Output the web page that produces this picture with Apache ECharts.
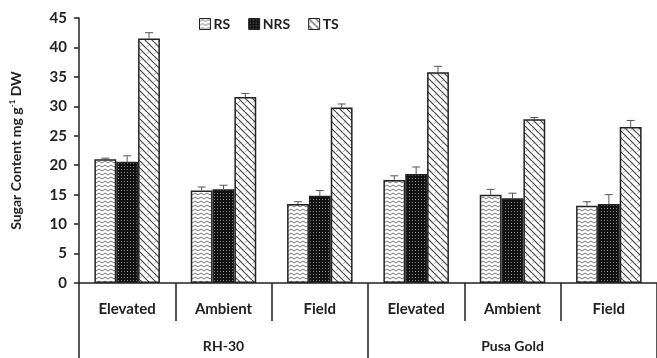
<!DOCTYPE html>
<html><head><meta charset="utf-8">
<script src="https://cdn.jsdelivr.net/npm/echarts@6/dist/echarts.min.js"></script>
<style>html,body{margin:0;padding:0;background:#fff}#c{width:657px;height:358px}</style>
</head><body><div id="c"></div>
<script>
const categories = ['Elevated','Ambient','Field','Elevated','Ambient','Field'];
const groups = ['RH-30','Pusa Gold'];
const seriesNames = ['RS','NRS','TS'];
const rsValues  = [21.0, 15.7, 13.4, 17.5, 15.0, 13.1];
const nrsValues = [20.6, 15.9, 14.8, 18.5, 14.4, 13.4];
const tsValues  = [41.5, 31.6, 29.8, 35.8, 27.8, 26.5];
const rsErr  = [0.2, 0.6, 0.4, 0.7, 0.9, 0.7];
const nrsErr = [1.0, 0.7, 0.9, 1.2, 0.85, 1.6];
const tsErr  = [1.0, 0.6, 0.6, 1.0, 0.3, 1.1];
const yTicks = [0,5,10,15,20,25,30,35,40,45];

function pat(w,h,draw){const c=document.createElement('canvas');c.width=w;c.height=h;const g=c.getContext('2d');draw(g,w,h);return {image:c,repeat:'repeat'};}
const rsPat = pat(6,4,(g,w,h)=>{g.fillStyle='#fff';g.fillRect(0,0,w,h);g.strokeStyle='#777';g.lineWidth=1;g.beginPath();g.moveTo(0,3);g.lineTo(3,1);g.lineTo(6,3);g.stroke();});
const nrsPat = pat(3,3,(g,w,h)=>{g.fillStyle='#111';g.fillRect(0,0,w,h);g.fillStyle='#888';g.fillRect(1,1,1,1);});
const tsPat = pat(7,7,(g,w,h)=>{g.fillStyle='#fff';g.fillRect(0,0,w,h);g.strokeStyle='#444';g.lineWidth=1.2;g.beginPath();for(let k=-7;k<=7;k+=7){g.moveTo(k,0);g.lineTo(k+7,7);}g.stroke();g.strokeStyle='#aaa';g.lineWidth=0.8;g.beginPath();g.moveTo(0,5);g.lineTo(2,3);g.stroke();});
const pats=[rsPat,nrsPat,tsPat];
const vals=[rsValues,nrsValues,tsValues];
const errs=[rsErr,nrsErr,tsErr];
const font='Lato';
const gap=0.32;

const series=[];
seriesNames.forEach((n,i)=>{
  series.push({name:n,type:'bar',barGap:'0%',barCategoryGap:(gap*100)+'%',data:vals[i],
    itemStyle:{color:pats[i],borderColor:'#222',borderWidth:1.5},z:2});
});
seriesNames.forEach((n,i)=>{
  series.push({type:'custom',name:n+'err',z:3,silent:true,
    data:categories.map((c,j)=>[j,vals[i][j],errs[i][j]]),
    encode:{x:0,y:1},
    renderItem:function(params,api){
      const ci=api.value(0),v=api.value(1),e=api.value(2);
      const band=api.size([1,0])[0];const bw=band*(1-gap)/3;
      const base=api.coord([ci,v]);const top=api.coord([ci,v+e]);
      const x=base[0]+(i-1)*bw;const cap=4;
      const st={stroke:'#555',lineWidth:1};
      return {type:'group',children:[
        {type:'line',shape:{x1:x,y1:base[1],x2:x,y2:top[1]},style:st},
        {type:'line',shape:{x1:x-cap,y1:top[1],x2:x+cap,y2:top[1]},style:st}]};
    }});
});

const chart=echarts.init(document.getElementById('c'));
chart.setOption({
  animation:false,
  textStyle:{fontFamily:font},
  legend:{data:seriesNames,left:194,top:12,itemWidth:11,itemHeight:11,itemGap:18,icon:'rect',
    textStyle:{fontFamily:font,fontWeight:'bold',fontSize:14,color:'#222',padding:[0,0,0,-2]},
    itemStyle:{borderColor:'#222',borderWidth:1}},
  grid:{left:76,top:18,width:584,height:265,containLabel:false},
  xAxis:[
    {type:'category',data:categories,position:'bottom',
     axisLine:{lineStyle:{color:'#222',width:1.5}},
     axisTick:{show:true,length:38,lineStyle:{color:'#222',width:1.5}},
     axisLabel:{margin:19,fontFamily:font,fontWeight:'bold',fontSize:15,color:'#222'}},
    {type:'category',data:groups,position:'bottom',
     axisLine:{show:false},
     axisTick:{show:true,length:76,lineStyle:{color:'#222',width:1.5}},
     axisLabel:{margin:56,fontFamily:font,fontWeight:'bold',fontSize:14,color:'#222'}}
  ],
  yAxis:{type:'value',min:0,max:45,interval:5,
    name:'{a|Sugar Content mg g}{s|-1}{a| DW}',nameLocation:'middle',nameGap:55,nameRotate:90,
    nameTextStyle:{rich:{a:{fontFamily:font,fontWeight:'bold',fontSize:14,color:'#222'},
      s:{fontFamily:font,fontWeight:'bold',fontSize:8,color:'#222',verticalAlign:'top',padding:[0,0,8,0]}}},
    axisLine:{show:true,lineStyle:{color:'#222',width:1.5}},
    axisTick:{show:true,length:5,lineStyle:{color:'#222',width:1.5}},
    splitLine:{show:false},
    axisLabel:{margin:12,fontFamily:font,fontWeight:'bold',fontSize:15,color:'#222',
      formatter:v=>yTicks.includes(v)?String(v):''}},
  series:series
});
</script></body></html>
